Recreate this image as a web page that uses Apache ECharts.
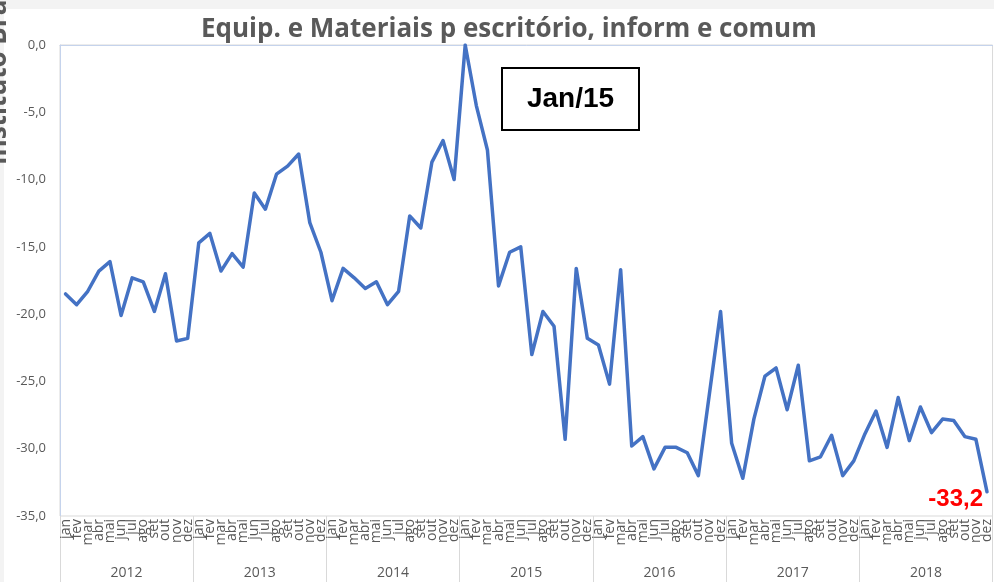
<!DOCTYPE html>
<html>
<head>
<meta charset="utf-8">
<script src="https://cdn.jsdelivr.net/npm/echarts@6/dist/echarts.min.js"></script>
<style>
html,body{margin:0;padding:0;background:#fff;}
#c{width:994px;height:582px;}
</style>
</head>
<body>
<div id="c"></div>
<script>
const titleText = 'Equip. e Materiais p escritório, inform e comum';
const months = ['jan','fev','mar','abr','mai','jun','jul','ago','set','out','nov','dez'];
const years = ['2012','2013','2014','2015','2016','2017','2018'];
const values2012 = [-18.5,-19.3,-18.3,-16.8,-16.1,-20.1,-17.3,-17.6,-19.8,-17.0,-22.0,-21.8];
const values2013 = [-14.7,-14.0,-16.8,-15.5,-16.5,-11.0,-12.2,-9.6,-9.0,-8.1,-13.2,-15.4];
const values2014 = [-19.0,-16.6,-17.3,-18.1,-17.6,-19.3,-18.3,-12.7,-13.6,-8.7,-7.1,-10.0];
const values2015 = [0.0,-4.5,-7.8,-17.9,-15.4,-15.0,-23.0,-19.8,-20.9,-29.3,-16.6,-21.8];
const values2016 = [-22.3,-25.2,-16.7,-29.8,-29.1,-31.5,-29.9,-29.9,-30.3,-32.0,-25.9,-19.8];
const values2017 = [-29.6,-32.2,-27.8,-24.6,-24.0,-27.1,-23.8,-30.9,-30.6,-29.0,-32.0,-30.9];
const values2018 = [-28.9,-27.2,-29.9,-26.2,-29.4,-26.9,-28.8,-27.8,-27.9,-29.1,-29.3,-33.2];
const yTicks = {min:-35, max:0, interval:5};
const annotationText = 'Jan/15';
const lastLabel = '-33,2';
const yAxisTitle = 'Instituto Brasileiro de Economia';

const allValues = [].concat(values2012,values2013,values2014,values2015,values2016,values2017,values2018);
const categories = [];
years.forEach(y => months.forEach(m => categories.push(m + ' ' + y)));
const lastIdx = allValues.length - 1;

const chart = echarts.init(document.getElementById('c'), null, {renderer: 'canvas'});
const txt = '#595959';
chart.setOption({
  animation: false,
  backgroundColor: '#ffffff',
  title: {
    text: titleText, left: 196, top: 12,
    textStyle: {fontFamily: 'Open Sans', fontWeight: 'bold', fontSize: 26, color: txt}
  },
  grid: {left: 60, right: 0, top: 45, bottom: 66, show: true, borderColor: '#d9d9d9', borderWidth: 1},
  xAxis: [{
    type: 'category', data: categories, boundaryGap: true,
    axisLine: {show: true, lineStyle: {color: '#c5d3ec', width: 1}},
    axisTick: {show: false},
    axisLabel: {interval: 0, rotate: 90, margin: 3, fontSize: 14, fontFamily: 'Open Sans', color: txt,
      hideOverlap: false, formatter: v => v.split(' ')[0]},
    splitLine: {show: false}
  }, {
    type: 'category', data: years, position: 'bottom', boundaryGap: true,
    axisLine: {show: false},
    axisTick: {show: true, length: 66, interval: 0, lineStyle: {color: '#d9d9d9'}},
    axisLabel: {interval: 0, margin: 50, fontSize: 14, fontFamily: 'Open Sans', color: txt},
    splitLine: {show: false}
  }],
  yAxis: {
    type: 'value', min: yTicks.min, max: yTicks.max, interval: yTicks.interval,
    axisLine: {show: true, lineStyle: {color: '#c5d3ec'}},
    axisTick: {show: false},
    splitLine: {show: false},
    axisLabel: {margin: 14, fontSize: 13, fontFamily: 'Open Sans', color: txt,
      formatter: v => v.toFixed(1).replace('.', ',')}
  },
  series: [{
    type: 'line', data: allValues, xAxisIndex: 0, showSymbol: false, symbol: 'none',
    lineStyle: {color: '#4472c4', width: 3.5, join: 'round', cap: 'round'}, itemStyle: {color: '#4472c4'}, smooth: false,
    markPoint: {
      symbol: 'circle', symbolSize: 0, silent: true,
      data: [{coord: [categories[lastIdx], allValues[lastIdx]], value: allValues[lastIdx]}],
      label: {show: true, position: 'left', distance: 4, offset: [0, 8],
        formatter: lastLabel, color: '#ff0000', fontWeight: 'bold', fontSize: 24,
        fontFamily: 'Liberation Sans'}
    }
  }],
  graphic: [
    {type: 'rect', left: 0, top: 0, shape: {width: 994, height: 9}, style: {fill: '#f3f3f3'}, z: 0},
    {type: 'rect', left: 0, top: 0, shape: {width: 4, height: 582}, style: {fill: '#f3f3f3'}, z: 0},
    {type: 'text', x: 12, y: 165, rotation: Math.PI / 2, z: 10,
      style: {text: yAxisTitle, fill: txt, font: 'bold 26px "Open Sans"', textAlign: 'left', textVerticalAlign: 'bottom'}},
    {type: 'rect', shape: {x: 502, y: 68, width: 137, height: 62}, z: 10,
      style: {fill: '#ffffff', stroke: '#000000', lineWidth: 2}},
    {type: 'text', x: 570.5, y: 99, z: 11,
      style: {text: annotationText, fill: '#000000', font: 'bold 28px "Liberation Sans"', textAlign: 'center', textVerticalAlign: 'middle'}}
  ]
});
</script>
</body>
</html>
